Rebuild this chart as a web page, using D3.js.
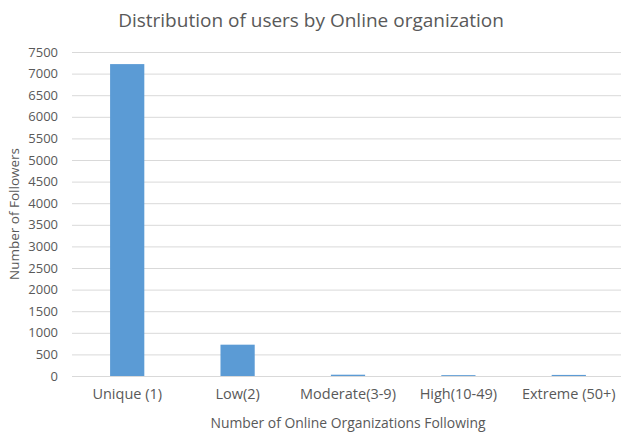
<!DOCTYPE html>
<html>
<head>
<meta charset="utf-8">
<script src="https://cdn.jsdelivr.net/npm/d3@7"></script>
<style>
  body { margin: 0; background: #fff; }
  svg { display: block; font-family: "Open Sans", "Liberation Sans", sans-serif; }
  .tick text { fill: #595959; }
</style>
</head>
<body>
<svg width="621" height="434"></svg>
<script>
// data
categories = ["Unique (1)", "Low(2)", "Moderate(3-9)", "High(10-49)", "Extreme (50+)"];
followers = [7220, 725, 30, 20, 25];
yTicks = [0, 500, 1000, 1500, 2000, 2500, 3000, 3500, 4000, 4500, 5000, 5500, 6000, 6500, 7000, 7500];

svg = d3.select('svg');

plotLeft = 72;
plotRight = 624;
plotTop = 52;
plotBottom = 376;

xScale = d3.scaleBand()
    .range([plotLeft, plotRight])
    .domain(categories)
    .padding(0);

yScale = d3.scaleLinear()
    .range([plotBottom, plotTop])
    .domain([0, 7500]);

// grid lines
svg.append('g')
    .attr('transform', `translate(${plotLeft}, 0)`)
    .call(d3.axisLeft(yScale)
        .tickValues(yTicks)
        .tickSize(-(plotRight - plotLeft))
        .tickFormat(''))
    .call(g => g.select('.domain').remove())
    .call(g => g.selectAll('line').attr('stroke', '#d9d9d9'));

// y labels
svg.append('g')
    .attr('transform', `translate(${plotLeft}, 0)`)
    .call(d3.axisLeft(yScale).tickValues(yTicks).tickSize(0).tickPadding(14).tickFormat(d3.format('d')))
    .call(g => g.select('.domain').remove())
    .selectAll('text')
    .attr('font-size', 13)
    .attr('font-family', '"Open Sans", sans-serif');

barW = xScale.bandwidth() * 0.31;

svg.append('g')
    .selectAll('rect')
    .data(followers)
    .enter()
    .append('rect')
    .attr('x', (d, i) => xScale(categories[i]) + (xScale.bandwidth() - barW) / 2)
    .attr('y', (d) => yScale(d))
    .attr('width', barW)
    .attr('height', (d) => plotBottom - yScale(d))
    .attr('fill', '#5b9bd5');

// x labels
svg.append('g')
    .attr('transform', `translate(0, ${plotBottom})`)
    .call(d3.axisBottom(xScale).tickSize(0).tickPadding(13))
    .call(g => g.select('.domain').remove())
    .selectAll('text')
    .attr('font-size', 14.5)
    .attr('font-family', '"Open Sans", sans-serif');

svg.append('text')
    .attr('x', 311)
    .attr('y', 27)
    .attr('text-anchor', 'middle')
    .attr('font-size', 19)
    .attr('fill', '#595959')
    .text('Distribution of users by Online organization');

svg.append('text')
    .attr('x', 348)
    .attr('y', 428)
    .attr('text-anchor', 'middle')
    .attr('font-size', 13.9)
    .attr('fill', '#595959')
    .text('Number of Online Organizations Following');

svg.append('text')
    .attr('transform', 'translate(19, 214) rotate(-90)')
    .attr('text-anchor', 'middle')
    .attr('font-size', 13.5)
    .attr('fill', '#595959')
    .text('Number of Followers');
</script>
</body>
</html>
